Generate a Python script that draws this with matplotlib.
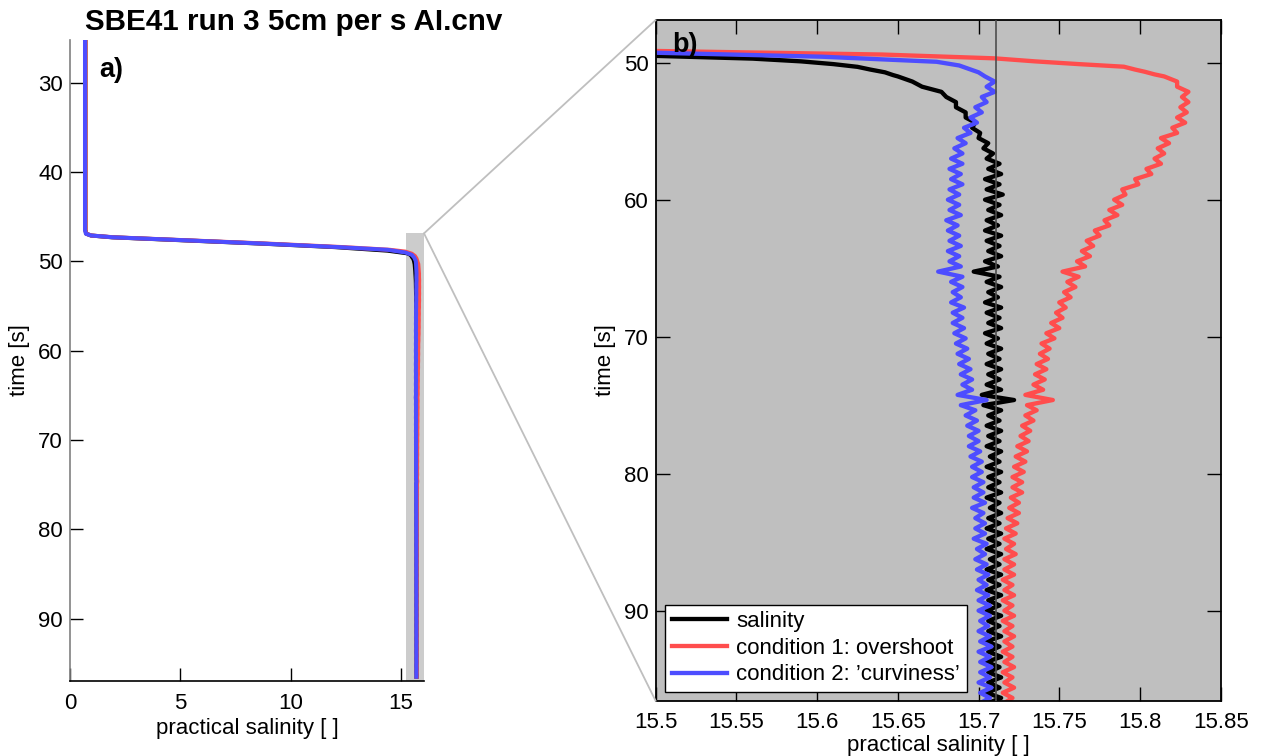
import numpy as np
import matplotlib
matplotlib.use("Agg")
import matplotlib.pyplot as plt
from matplotlib.patches import Rectangle, ConnectionPatch
from matplotlib.ticker import FixedLocator, FixedFormatter

plt.rcParams['font.family'] = ['Liberation Sans', 'DejaVu Sans']

# ---------------- data ----------------
title_text = "SBE41 run 3 5cm per s AI.cnv"
legend_labels = ["salinity", "condition 1: overshoot", "condition 2: \u2019curviness\u2019"]

# leading part (descent through the interface), per series
sal_head_t = [25.0, 46.5, 46.9, 47.1, 47.3, 47.6, 48.0, 48.4, 48.8, 49.1, 49.3, 49.5, 49.7,
              49.9, 50.1, 50.3, 50.5, 50.7, 50.9]
sal_head_s = [0.70, 0.70, 0.74, 0.95, 1.9, 4.8, 8.6, 12.0, 14.4, 15.30, 15.46, 15.50, 15.56,
              15.59, 15.61, 15.625, 15.633, 15.642, 15.647]

c1_head_t = [25.0, 46.5, 46.9, 47.1, 47.3, 47.6, 48.0, 48.4, 48.7, 48.9, 49.14, 49.4, 49.68,
             49.9, 50.1, 50.29, 50.5, 50.66, 50.85]
c1_head_s = [0.70, 0.70, 0.74, 0.97, 2.0, 5.0, 8.9, 12.4, 14.5, 15.2, 15.50, 15.64, 15.71,
             15.735, 15.762, 15.790, 15.797, 15.803, 15.809]

c2_head_t = [25.0, 46.5, 46.9, 47.1, 47.3, 47.6, 48.0, 48.4, 48.7, 49.0, 49.27, 49.56, 49.93,
             50.2, 50.41, 50.7]
c2_head_s = [0.68, 0.68, 0.72, 0.96, 1.95, 4.9, 8.7, 12.2, 14.4, 15.2, 15.50, 15.603, 15.674,
             15.688, 15.693, 15.700]

# common sampling of the remainder of the record (rows of 3 s)
tail_t = [51.0, 51.375, 51.75, 52.125, 52.5, 52.875, 53.25, 53.625,
          54.0, 54.375, 54.75, 55.125, 55.5, 55.875, 56.25, 56.625,
          57.0, 57.375, 57.75, 58.125, 58.5, 58.875, 59.25, 59.625,
          60.0, 60.375, 60.75, 61.125, 61.5, 61.875, 62.25, 62.625,
          63.0, 63.375, 63.75, 64.125, 64.5, 64.875, 65.25, 65.625,
          66.0, 66.375, 66.75, 67.125, 67.5, 67.875, 68.25, 68.625,
          69.0, 69.375, 69.75, 70.125, 70.5, 70.875, 71.25, 71.625,
          72.0, 72.375, 72.75, 73.125, 73.5, 73.875, 74.25, 74.625,
          75.0, 75.375, 75.75, 76.125, 76.5, 76.875, 77.25, 77.625,
          78.0, 78.375, 78.75, 79.125, 79.5, 79.875, 80.25, 80.625,
          81.0, 81.375, 81.75, 82.125, 82.5, 82.875, 83.25, 83.625,
          84.0, 84.375, 84.75, 85.125, 85.5, 85.875, 86.25, 86.625,
          87.0, 87.375, 87.75, 88.125, 88.5, 88.875, 89.25, 89.625,
          90.0, 90.375, 90.75, 91.125, 91.5, 91.875, 92.25, 92.625,
          93.0, 93.375, 93.75, 94.125, 94.5, 94.875, 95.25, 95.625,
          96.0, 96.375, 96.75]

sal_tail = [15.650, 15.659, 15.665, 15.677, 15.680, 15.686, 15.686, 15.692,
            15.692, 15.698, 15.696, 15.701, 15.700, 15.706, 15.703, 15.709,
            15.705, 15.713, 15.706, 15.714, 15.704, 15.713, 15.705, 15.715,
            15.704, 15.713, 15.706, 15.714, 15.705, 15.712, 15.704, 15.714,
            15.705, 15.713, 15.706, 15.714, 15.704, 15.712, 15.697, 15.713,
            15.705, 15.714, 15.706, 15.712, 15.704, 15.714, 15.705, 15.713,
            15.706, 15.714, 15.704, 15.712, 15.705, 15.714, 15.706, 15.713,
            15.705, 15.714, 15.706, 15.713, 15.705, 15.714, 15.702, 15.722,
            15.703, 15.714, 15.706, 15.713, 15.705, 15.714, 15.706, 15.713,
            15.705, 15.714, 15.707, 15.713, 15.705, 15.714, 15.706, 15.713,
            15.706, 15.714, 15.705, 15.713, 15.707, 15.714, 15.706, 15.713,
            15.705, 15.714, 15.706, 15.713, 15.705, 15.714, 15.707, 15.713,
            15.705, 15.714, 15.706, 15.713, 15.705, 15.714, 15.706, 15.713,
            15.705, 15.714, 15.706, 15.713, 15.706, 15.714, 15.705, 15.713,
            15.706, 15.714, 15.705, 15.713, 15.706, 15.714, 15.706, 15.713,
            15.705, 15.714, 15.706]

c1_tail = [15.815, 15.823, 15.823, 15.830, 15.826, 15.830, 15.825, 15.829,
           15.823, 15.828, 15.820, 15.823, 15.813, 15.818, 15.811, 15.815,
           15.809, 15.813, 15.804, 15.807, 15.797, 15.799, 15.789, 15.791,
           15.784, 15.789, 15.781, 15.786, 15.778, 15.781, 15.772, 15.775,
           15.767, 15.771, 15.764, 15.769, 15.761, 15.766, 15.752, 15.762,
           15.755, 15.760, 15.753, 15.757, 15.750, 15.754, 15.748, 15.752,
           15.745, 15.750, 15.742, 15.747, 15.739, 15.744, 15.738, 15.743,
           15.736, 15.742, 15.735, 15.741, 15.734, 15.740, 15.729, 15.746,
           15.730, 15.736, 15.729, 15.734, 15.727, 15.732, 15.726, 15.731,
           15.724, 15.730, 15.723, 15.729, 15.722, 15.728, 15.721, 15.727,
           15.721, 15.727, 15.720, 15.725, 15.719, 15.725, 15.718, 15.724,
           15.717, 15.723, 15.716, 15.722, 15.717, 15.723, 15.716, 15.722,
           15.716, 15.722, 15.715, 15.721, 15.716, 15.722, 15.715, 15.721,
           15.716, 15.722, 15.715, 15.721, 15.716, 15.722, 15.716, 15.721,
           15.715, 15.721, 15.716, 15.722, 15.715, 15.721, 15.716, 15.722,
           15.715, 15.721, 15.716]

c2_tail = [15.704, 15.710, 15.705, 15.710, 15.702, 15.705, 15.698, 15.702,
           15.695, 15.699, 15.691, 15.695, 15.687, 15.692, 15.685, 15.690,
           15.683, 15.690, 15.682, 15.689, 15.683, 15.690, 15.682, 15.688,
           15.681, 15.688, 15.682, 15.689, 15.680, 15.687, 15.681, 15.688,
           15.682, 15.689, 15.681, 15.688, 15.682, 15.689, 15.675, 15.690,
           15.683, 15.690, 15.684, 15.689, 15.683, 15.691, 15.684, 15.690,
           15.684, 15.691, 15.685, 15.692, 15.686, 15.693, 15.687, 15.694,
           15.688, 15.695, 15.689, 15.696, 15.690, 15.696, 15.687, 15.705,
           15.689, 15.698, 15.692, 15.699, 15.693, 15.700, 15.694, 15.700,
           15.694, 15.701, 15.695, 15.702, 15.696, 15.702, 15.696, 15.703,
           15.697, 15.703, 15.697, 15.704, 15.696, 15.703, 15.698, 15.704,
           15.698, 15.704, 15.697, 15.705, 15.699, 15.704, 15.698, 15.705,
           15.699, 15.706, 15.700, 15.705, 15.699, 15.706, 15.700, 15.707,
           15.700, 15.707, 15.701, 15.706, 15.700, 15.707, 15.701, 15.708,
           15.700, 15.707, 15.701, 15.708, 15.701, 15.707, 15.700, 15.708,
           15.701, 15.707, 15.701]

reference_salinity = 15.7105
zoom_box = [15.22, 16.05, 46.86, 98.0]   # xmin, xmax, ymin(top), ymax

xticks_a = [0, 5, 10, 15]
yticks_a = [30, 40, 50, 60, 70, 80, 90]
xticks_b = [15.5, 15.55, 15.6, 15.65, 15.7, 15.75, 15.8, 15.85]
xticklabels_b = ["15.5", "15.55", "15.6", "15.65", "15.7", "15.75", "15.8", "15.85"]
yticks_b = [50, 60, 70, 80, 90]

# ---------------- assemble ----------------
t_sal = np.concatenate([sal_head_t, tail_t])
s_sal = np.concatenate([sal_head_s, sal_tail])
t_c1 = np.concatenate([c1_head_t, tail_t])
s_c1 = np.concatenate([c1_head_s, c1_tail])
t_c2 = np.concatenate([c2_head_t, tail_t])
s_c2 = np.concatenate([c2_head_s, c2_tail])

BLACK = "#000000"
RED = "#ff4d4d"
BLUE = "#4d4dff"
FS = 16

W, H = 1263, 756
fig = plt.figure(figsize=(W / 100, H / 100), dpi=100)

def px_axes(x0, y0, x1, y1):
    return fig.add_axes([x0 / W, 1 - y1 / H, (x1 - x0) / W, (y1 - y0) / H])

# ---------------- panel a ----------------
ax_a = px_axes(70, 40, 424, 681)
ax_a.add_patch(Rectangle((zoom_box[0], zoom_box[2]), zoom_box[1] - zoom_box[0],
                         zoom_box[3] - zoom_box[2], facecolor="#cccccc", edgecolor="none",
                         zorder=0.5))
lw = 2.9
ax_a.plot(s_sal, t_sal, color=BLACK, lw=lw, solid_capstyle="butt")
ax_a.plot(s_c1, t_c1, color=RED, lw=lw, solid_capstyle="butt")
ax_a.plot(s_c2, t_c2, color=BLUE, lw=lw, solid_capstyle="butt")
ax_a.set_xlim(0, 16.05)
ax_a.set_ylim(97.0, 25.2)
ax_a.spines["top"].set_visible(False)
ax_a.spines["right"].set_visible(False)
ax_a.spines["left"].set_color("#808080")
ax_a.spines["left"].set_linewidth(1.2)
ax_a.spines["bottom"].set_linewidth(1.2)
ax_a.set_xticks(xticks_a)
ax_a.set_yticks(yticks_a)
ax_a.tick_params(direction="in", length=9.5, width=1, labelsize=FS)
ax_a.tick_params(axis="x", pad=8.5)
ax_a.tick_params(axis="y", pad=5)
ax_a.set_xlabel("practical salinity [ ]", fontsize=FS, labelpad=3)
ax_a.set_ylabel("time [s]", fontsize=FS, labelpad=6)
ax_a.text(99 / W, 1 - 77 / H, "a)", transform=fig.transFigure, fontsize=19.5,
          fontweight="bold")

fig.text(85 / W, 1 - 30 / H, title_text, fontsize=21.3, fontweight="bold", ha="left",
         va="baseline")

# ---------------- panel b ----------------
ax_b = px_axes(655.7, 20, 1220.7, 701)
ax_b.set_facecolor("#bfbfbf")
lb = 3.1
h1, = ax_b.plot(s_sal, t_sal, color=BLACK, lw=lb, label=legend_labels[0])
h2, = ax_b.plot(s_c1, t_c1, color=RED, lw=lb, label=legend_labels[1])
h3, = ax_b.plot(s_c2, t_c2, color=BLUE, lw=lb, label=legend_labels[2])
ax_b.axvline(reference_salinity, color="#4d4d4d", lw=1.2, zorder=3)
ax_b.set_xlim(15.5, 15.85)
ax_b.set_ylim(96.6, 46.88)
ax_b.xaxis.set_major_locator(FixedLocator(xticks_b))
ax_b.xaxis.set_major_formatter(FixedFormatter(xticklabels_b))
ax_b.set_yticks(yticks_b)
ax_b.tick_params(direction="in", length=10, width=1, labelsize=FS,
                 top=True, right=True)
ax_b.tick_params(axis="x", pad=8)
ax_b.tick_params(axis="y", pad=5)
for sp in ax_b.spines.values():
    sp.set_linewidth(1.3)
ax_b.set_xlabel("practical salinity [ ]", fontsize=FS, labelpad=1)
ax_b.set_ylabel("time [s]", fontsize=FS, labelpad=6)
ax_b.text(672 / W, 1 - 52 / H, "b)", transform=fig.transFigure, fontsize=19.5,
          fontweight="bold")

leg = ax_b.legend(handles=[h1, h2, h3], loc="lower left", fontsize=FS,
                  bbox_to_anchor=((665 - 655.7) / 565, (701 - 692) / 681),
                  borderaxespad=0, fancybox=False, framealpha=1, edgecolor="black",
                  handlelength=2.5, handletextpad=0.4, labelspacing=0.25,
                  borderpad=0.3)
leg.get_frame().set_linewidth(1.0)
leg.set_zorder(10)

# ---------------- connectors ----------------
for yb in (1.0, 0.0):
    con = ConnectionPatch(xyA=(zoom_box[1], zoom_box[2]), coordsA=ax_a.transData,
                          xyB=(0.0, yb), coordsB=ax_b.transAxes,
                          color="#bfbfbf", lw=1.3)
    fig.add_artist(con)

fig.savefig("out.png", dpi=100)
